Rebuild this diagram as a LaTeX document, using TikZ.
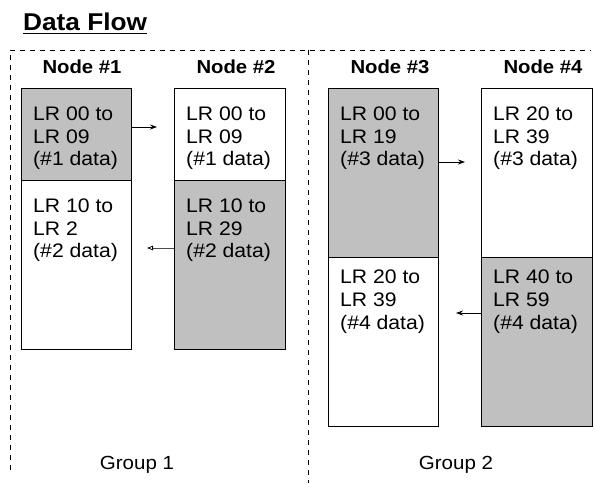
\documentclass[tikz,border=0pt]{standalone}
\usepackage{fontspec}
\setmainfont[FakeStretch=1.08]{Liberation Sans}
\usetikzlibrary{arrows.meta}
\definecolor{cellgray}{RGB}{192,192,192}
\begin{document}
\begin{tikzpicture}[x=1pt,y=-1pt,
  box/.style={draw=black,line width=0.8pt},
  graybox/.style={box,fill=cellgray},
  cell/.style={anchor=north west,align=left,inner sep=0pt,font=\fontsize{19.6}{22.8}\selectfont},
  head/.style={anchor=base,inner sep=0pt,font=\fontsize{18.8}{22}\selectfont\bfseries},
  grp/.style={anchor=base,inner sep=0pt,font=\fontsize{19}{22}\selectfont},
  sep/.style={dashed,dash pattern=on 5pt off 5pt,line width=0.6pt},
  flow/.style={line width=0.8pt,-{Stealth[length=7pt,width=5pt]}},
  flowopen/.style={line width=0.8pt,draw=black!70,-{Triangle[open,length=6pt,width=4.5pt,fill=white,color=black]}}
]
\useasboundingbox (0,0) rectangle (595,483);
% title
\node[anchor=base west,inner sep=0pt,font=\fontsize{24.3}{26}\selectfont\bfseries] (title) at (23,30.5) {Data Flow};
\draw[line width=1.4pt] (title.south west |- 0,33.5) -- (title.south east |- 0,33.5);
% dashed frames
\coordinate (tl) at (10,50);
\coordinate (tr) at (591,50);
\coordinate (bl) at (10,470);
\coordinate (mt) at (308,50);
\coordinate (mb) at (308,483);
\draw[sep] (bl) -- (tl) -- (tr);
\draw[sep] (mt) -- (mb);
% headers
\node[head] (h1) at (82,73) {Node \#1};
\node[head] (h2) at (236,73) {Node \#2};
\node[head] (h3) at (390,73) {Node \#3};
\node[head] (h4) at (543,73) {Node \#4};
% node 1
\draw[graybox] (21,88) rectangle (131,180);
\draw[box,fill=white] (21,180) rectangle (131,349);
% node 2
\draw[box,fill=white] (174,88) rectangle (285,180);
\draw[graybox] (174,180) rectangle (285,349);
% node 3
\draw[graybox] (328,88) rectangle (438,257);
\draw[box,fill=white] (328,257) rectangle (438,426);
% node 4
\draw[box,fill=white] (481,88) rectangle (592,257);
\draw[graybox] (481,257) rectangle (592,426);
% texts
\node[cell] (a1) at (33,106.5) {LR 00 to\\LR 09\\(\#1 data)};
\node[cell] (a2) at (33,198.5) {LR 10 to\\LR 2\\(\#2 data)};
\node[cell] (b1) at (186,106.5) {LR 00 to\\LR 09\\(\#1 data)};
\node[cell] (b2) at (186,198.5) {LR 10 to\\LR 29\\(\#2 data)};
\node[cell] (c1) at (340,106.5) {LR 00 to\\LR 19\\(\#3 data)};
\node[cell] (c2) at (340,270) {LR 20 to\\LR 39\\(\#4 data)};
\node[cell] (d1) at (493,106.5) {LR 20 to\\LR 39\\(\#3 data)};
\node[cell] (d2) at (493,270) {LR 40 to\\LR 59\\(\#4 data)};
% arrows
\coordinate (e1) at (157,127);
\coordinate (e2) at (147,248);
\coordinate (e3) at (465,162);
\coordinate (e4) at (456,313);
\draw[flow] (131,127) -- (e1);
\draw[flowopen] (174,248) -- (e2);
\draw[flow] (438,162) -- (e3);
\draw[flow] (481,313) -- (e4);
% group labels
\node[grp] (g1) at (137,469) {Group 1};
\node[grp] (g2) at (456,469) {Group 2};
\end{tikzpicture}
\end{document}
